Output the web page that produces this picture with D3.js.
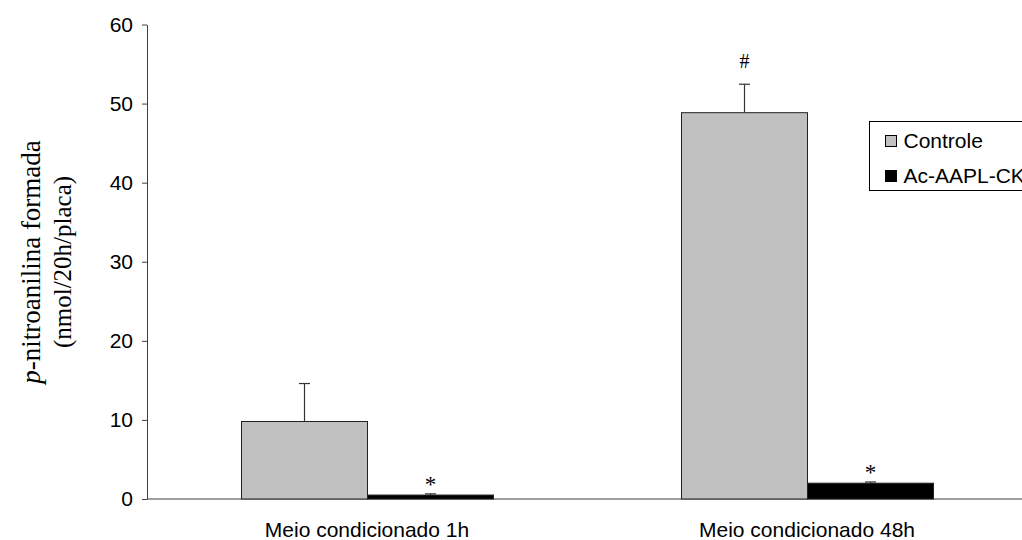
<!DOCTYPE html>
<html>
<head>
<meta charset="utf-8">
<script src="https://cdn.jsdelivr.net/npm/d3@7/dist/d3.min.js"></script>
<style>
  body { margin: 0; background: #fff; }
  svg { display: block; }
</style>
</head>
<body>
<svg id="chart" width="1022" height="540"></svg>
<script>
// Enzyme activity per condition, control vs. inhibitor
const categories = ["Meio condicionado 1h", "Meio condicionado 48h"];
const seriesNames = ["Controle", "Ac-AAPL-CK"];
const controleValues = [9.8, 48.85];
const controleErrors = [4.8, 3.6];
const inibidorValues = [0.5, 2.0];
const inibidorErrors = [0.15, 0.15];
const controleMarks = ["", "#"];
const inibidorMarks = ["*", "*"];
const yTicks = [0, 10, 20, 30, 40, 50, 60];

const seriesColors = ["#c0c0c0", "#000000"];

const svg = d3.select("#chart");
const margin = { left: 147, top: 24.5, bottom: 499 };
const groupWidth = 440;

const x0 = d3.scaleBand()
  .domain(categories)
  .range([margin.left, margin.left + groupWidth * categories.length])
  .paddingInner(0).paddingOuter(0);

const x1 = d3.scaleBand()
  .domain(seriesNames)
  .range([0, 252]);

const y = d3.scaleLinear().domain([0, 60]).range([margin.bottom, margin.top]);

const sans = "Liberation Sans, Arial, sans-serif";
const serif = "Liberation Serif, Times New Roman, serif";

// y axis
const yAxis = svg.append("g")
  .attr("transform", `translate(${margin.left},0)`)
  .call(d3.axisLeft(y).tickValues(yTicks).tickSize(5).tickSizeOuter(0));
yAxis.select(".domain").attr("stroke", "#404040");
yAxis.selectAll(".tick line").attr("stroke", "#404040");
yAxis.selectAll(".tick text")
  .attr("font-family", sans)
  .attr("font-size", 21)
  .attr("fill", "#000")
  .attr("x", -14);

// x axis baseline
svg.append("line")
  .attr("x1", margin.left).attr("x2", x0.range()[1])
  .attr("y1", y(0)).attr("y2", y(0))
  .attr("stroke", "#404040").attr("stroke-width", 1);

// category labels
svg.append("g").selectAll("text")
  .data(categories)
  .join("text")
  .attr("x", d => x0(d) + x0.bandwidth() / 2)
  .attr("y", 537)
  .attr("text-anchor", "middle")
  .attr("font-family", sans)
  .attr("font-size", 21)
  .attr("fill", "#000")
  .text(d => d);

const rows = [];
categories.forEach((c, i) => {
  rows.push({ cat: c, s: seriesNames[0], v: controleValues[i], e: controleErrors[i], m: controleMarks[i], color: seriesColors[0] });
  rows.push({ cat: c, s: seriesNames[1], v: inibidorValues[i], e: inibidorErrors[i], m: inibidorMarks[i], color: seriesColors[1] });
});

const groupOffset = (groupWidth - 252) / 2 + 0.5;
const bx = d => x0(d.cat) + groupOffset + x1(d.s);

// bars
svg.append("g").selectAll("rect")
  .data(rows)
  .join("rect")
  .attr("x", bx)
  .attr("y", d => y(d.v))
  .attr("width", x1.bandwidth())
  .attr("height", d => y(0) - y(d.v))
  .attr("fill", d => d.color)
  .attr("stroke", "#222")
  .attr("stroke-width", 1);

// error bars (upper only)
const eg = svg.append("g").attr("stroke", "#333").attr("stroke-width", 1.2);
rows.forEach(d => {
  const cx = bx(d) + x1.bandwidth() / 2;
  eg.append("line").attr("x1", cx).attr("x2", cx).attr("y1", y(d.v)).attr("y2", y(d.v + d.e));
  eg.append("line").attr("x1", cx - 5.5).attr("x2", cx + 5.5).attr("y1", y(d.v + d.e)).attr("y2", y(d.v + d.e));
});

// significance markers
svg.append("g").selectAll("text")
  .data(rows.filter(d => d.m))
  .join("text")
  .attr("x", d => bx(d) + x1.bandwidth() / 2)
  .attr("y", d => y(d.v + d.e) - (d.m === "#" ? 16 : 2))
  .attr("text-anchor", "middle")
  .attr("font-family", serif)
  .attr("font-size", d => d.m === "#" ? 20 : 23)
  .attr("fill", "#000")
  .text(d => d.m);

// y axis title
const title = svg.append("text")
  .attr("transform", "translate(0,262) rotate(-90)")
  .attr("text-anchor", "middle")
  .attr("font-family", serif)
  .attr("fill", "#000");
const t1 = title.append("tspan").attr("x", 0).attr("y", 40).attr("font-size", 27);
t1.append("tspan").attr("font-style", "italic").text("p");
t1.append("tspan").text("-nitroanilina formada");
title.append("tspan").attr("x", 0).attr("y", 71).attr("font-size", 25).text("(nmol/20h/placa)");

// legend (box runs past the right edge of the drawing)
const legend = svg.append("g").attr("transform", "translate(869.5,121.5)");
legend.append("rect")
  .attr("width", 200).attr("height", 69)
  .attr("fill", "#fff").attr("stroke", "#000").attr("stroke-width", 1);
seriesNames.forEach((s, i) => {
  const ly = 14 + i * 35;
  legend.append("rect")
    .attr("x", 16).attr("y", ly)
    .attr("width", 11).attr("height", 11)
    .attr("fill", seriesColors[i]).attr("stroke", "#000").attr("stroke-width", 1);
  legend.append("text")
    .attr("x", 34).attr("y", ly + 12.5)
    .attr("font-family", sans)
    .attr("font-size", 21)
    .attr("fill", "#000")
    .text(s);
});
</script>
</body>
</html>
